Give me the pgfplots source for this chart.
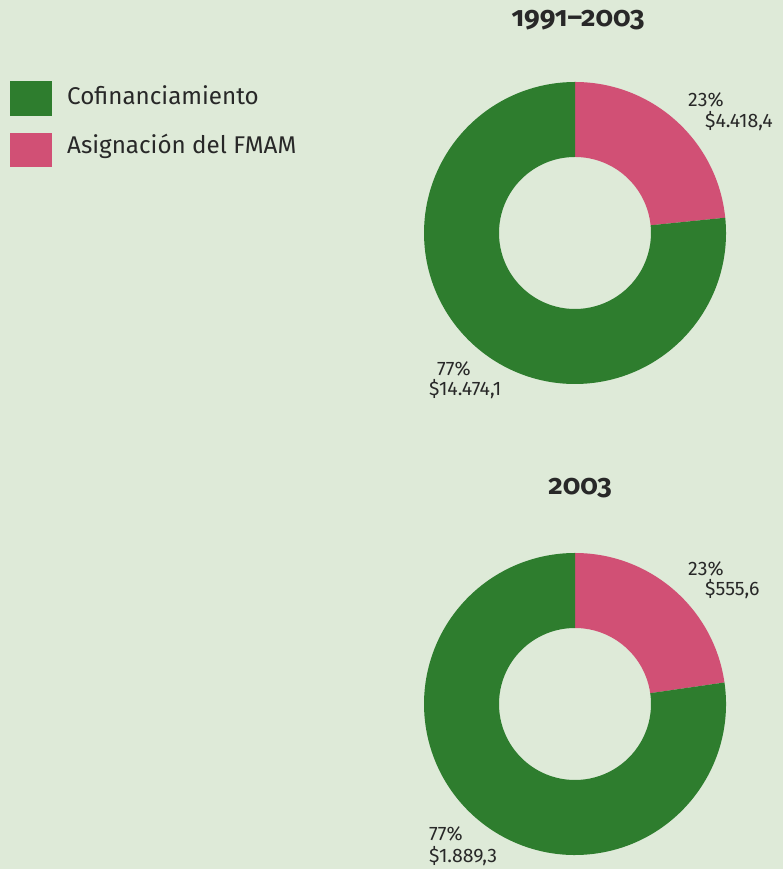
\documentclass[border=0pt]{standalone}
\usepackage{pgfplots}
\pgfplotsset{compat=1.18}
\usepackage{fontspec}
\setmainfont{Fira Sans}
\newfontfamily\titlefont[Numbers=OldStyle]{Fira Sans}
\definecolor{bg}{RGB}{222,234,216}
\definecolor{cgreen}{RGB}{46,125,46}
\definecolor{cpink}{RGB}{209,80,117}
\definecolor{txt}{RGB}{40,40,40}
% data (millones de US$)
\def\cofA{14474.1}\def\fmamA{4418.4}
\def\cofB{1889.3}\def\fmamB{555.6}
\edef\angA{\fpeval{round(90-360*\fmamA/(\cofA+\fmamA),4)}}
\edef\angB{\fpeval{round(90-360*\fmamB/(\cofB+\fmamB),4)}}
\def\Ro{151}\def\Ri{76}
\begin{document}
\begin{tikzpicture}
\fill[bg] (0,0) rectangle (783pt,869pt);
\begin{axis}[scale only axis, width=783pt, height=869pt,
  xmin=0, xmax=783, ymin=0, ymax=869, hide axis, clip=false]
% donut 1 (center 575,636)
\fill[cpink] (axis cs:575,{636+\Ro}) arc[start angle=90, end angle=\angA, radius=\Ro]
  -- (axis cs:{575+\Ri*cos(\angA)},{636+\Ri*sin(\angA)}) arc[start angle=\angA, end angle=90, radius=\Ri] -- cycle;
\fill[cgreen] (axis cs:{575+\Ro*cos(\angA)},{636+\Ro*sin(\angA)}) arc[start angle=\angA, end angle=-270, radius=\Ro]
  -- (axis cs:575,{636+\Ri}) arc[start angle=-270, end angle=\angA, radius=\Ri] -- cycle;
% donut 2 (center 575,165)
\fill[cpink] (axis cs:575,{165+\Ro}) arc[start angle=90, end angle=\angB, radius=\Ro]
  -- (axis cs:{575+\Ri*cos(\angB)},{165+\Ri*sin(\angB)}) arc[start angle=\angB, end angle=90, radius=\Ri] -- cycle;
\fill[cgreen] (axis cs:{575+\Ro*cos(\angB)},{165+\Ro*sin(\angB)}) arc[start angle=\angB, end angle=-270, radius=\Ro]
  -- (axis cs:575,{165+\Ri}) arc[start angle=-270, end angle=\angB, radius=\Ri] -- cycle;
% titles
\node[anchor=base, text=txt, font=\titlefont\bfseries\fontsize{28}{32}\selectfont] at (axis cs:578,842) {1991–2003};
\node[anchor=base, text=txt, font=\titlefont\bfseries\fontsize{28}{32}\selectfont] at (axis cs:580,374) {2003};
% legend
\fill[cgreen] (axis cs:10,788) rectangle (axis cs:52,753);
\fill[cpink] (axis cs:10,736) rectangle (axis cs:52,702);
\node[anchor=base west, inner sep=0pt, text=txt, font=\fontsize{24.2}{28}\selectfont] at (axis cs:67,764) {Cofinanciamiento};
\node[anchor=base west, inner sep=0pt, text=txt, font=\fontsize{24.2}{28}\selectfont] at (axis cs:67,715) {Asignación del FMAM};
% labels
\tikzset{lab/.style={anchor=base west, inner sep=0pt, text=txt, font=\fontsize{19.5}{22}\selectfont}}
\node[lab] at (axis cs:688,762) {23\%};
\node[lab] at (axis cs:705,741) {\$4.418,4};
\node[lab] at (axis cs:437,493) {77\%};
\node[lab] at (axis cs:429,473) {\$14.474,1};
\node[lab] at (axis cs:688,293) {23\%};
\node[lab] at (axis cs:705,273) {\$555,6};
\node[lab] at (axis cs:429,28) {77\%};
\node[lab] at (axis cs:429,6) {\$1.889,3};
\end{axis}
\end{tikzpicture}
\end{document}
